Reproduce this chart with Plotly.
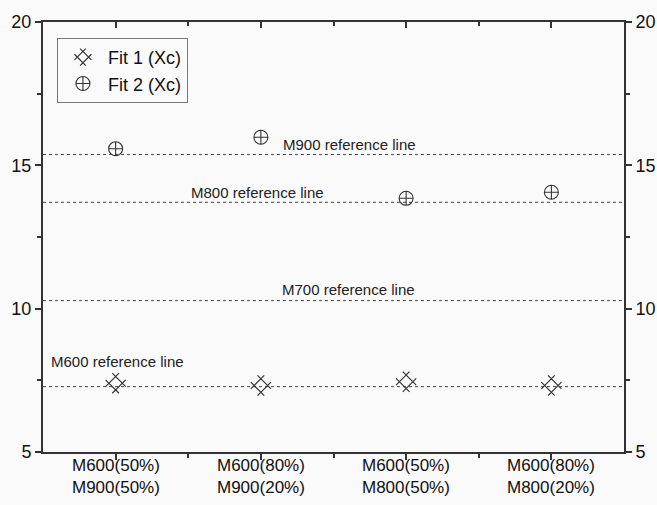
import plotly.graph_objects as go

# Sample blends on the x axis
categories = ["M600(50%)<br>M900(50%)", "M600(80%)<br>M900(20%)",
              "M600(50%)<br>M800(50%)", "M600(80%)<br>M800(20%)"]
cat_pos = [0, 1, 2, 3]

# Fitted peak positions (Xc)
fit1_xc = [7.40, 7.32, 7.45, 7.32]
fit2_xc = [15.58, 15.98, 13.85, 14.06]

# Reference levels of the pure materials
ref_names = ["M900 reference line", "M800 reference line",
             "M700 reference line", "M600 reference line"]
ref_values = [15.38, 13.71, 10.28, 7.28]
ref_label_x = [1.61, 0.98, 1.60, 0.01]
ref_label_y = [15.73, 14.06, 10.67, 8.15]

FONT = "Liberation Sans, Arial, sans-serif"
AX = "#333333"
BG = "#fafafa"

fig = go.Figure()

fig.add_trace(go.Scatter(
    x=cat_pos, y=fit1_xc, mode="markers", name="Fit 1 (Xc)",
    marker=dict(symbol="hash-open", angle=45, size=19, color="#333333",
                line=dict(width=1.2, color="#333333")),
))
fig.add_trace(go.Scatter(
    x=cat_pos, y=fit2_xc, mode="markers", name="Fit 2 (Xc)",
    marker=dict(symbol="circle-cross-open", size=14, color="#333333",
                line=dict(width=1.1, color="#333333")),
))

# invisible traces to bring up the mirrored top and right axes
fig.add_trace(go.Scatter(x=[cat_pos[0]], y=[ref_values[0]], xaxis="x2", yaxis="y",
                         mode="markers", marker=dict(opacity=0), showlegend=False,
                         hoverinfo="skip"))
fig.add_trace(go.Scatter(x=[cat_pos[0]], y=[ref_values[0]], xaxis="x", yaxis="y2",
                         mode="markers", marker=dict(opacity=0), showlegend=False,
                         hoverinfo="skip"))

for name, val, lx, ly in zip(ref_names, ref_values, ref_label_x, ref_label_y):
    fig.add_hline(y=val, line=dict(color="#444444", width=1, dash="3px,3px"), layer="below")
    fig.add_annotation(x=lx, y=ly, text=name, showarrow=False,
                       font=dict(family=FONT, size=15, color="#222222"))

# two-line category labels under the bottom axis
for pos, label in zip(cat_pos, categories):
    fig.add_annotation(x=pos, y=0, xref="x", yref="paper", text=label,
                       showarrow=False, yanchor="top", yshift=-2,
                       font=dict(family=FONT, size=17, color="#111111"))

xr = [-0.5, 3.5]
yr = [5, 20]

fig.update_layout(
    width=657, height=505,
    margin=dict(l=43, r=33, t=22, b=53, autoexpand=False),
    paper_bgcolor=BG, plot_bgcolor=BG,
    font=dict(family=FONT, color="#111111"),
    showlegend=True,
    legend=dict(x=0.024, y=0.963, xanchor="left", yanchor="top",
                bgcolor=BG, bordercolor="#777777", borderwidth=1,
                font=dict(family=FONT, size=18, color="#111111"),
                itemsizing="trace", itemwidth=40, tracegroupgap=0),
    xaxis=dict(range=xr, tickmode="array", tickvals=cat_pos, showticklabels=False,
               automargin=False,
               showgrid=False, zeroline=False, showline=True, linecolor=AX, linewidth=2,
               ticks="outside", ticklen=6, tickwidth=2, tickcolor=AX,
               minor=dict(tickmode="array", tickvals=[0.5, 1.5, 2.5], ticks="outside",
                          ticklen=4, tickwidth=2, tickcolor=AX)),
    xaxis2=dict(range=xr, overlaying="x", side="top", tickmode="array",
                tickvals=cat_pos, showticklabels=False, automargin=False,
                showgrid=False, zeroline=False, showline=True, linecolor=AX, linewidth=2,
                ticks="inside", ticklen=6, tickwidth=2, tickcolor=AX,
                minor=dict(tickmode="array", tickvals=[0.5, 1.5, 2.5], ticks="inside",
                           ticklen=4, tickwidth=2, tickcolor=AX)),
    yaxis=dict(range=yr, tickmode="linear", tick0=5, dtick=5, automargin=False,
               showgrid=False, zeroline=False, showline=True, linecolor=AX, linewidth=2,
               ticks="outside", ticklen=6, tickwidth=2, tickcolor=AX,
               tickfont=dict(family=FONT, size=18, color="#111111"),
               minor=dict(tickmode="linear", tick0=5, dtick=2.5, ticks="outside",
                          ticklen=4, tickwidth=2, tickcolor=AX)),
    yaxis2=dict(range=yr, overlaying="y", side="right", tickmode="linear", tick0=5, dtick=5,
                automargin=False,
                showgrid=False, zeroline=False, showline=True, linecolor=AX, linewidth=2,
                ticks="outside", ticklen=6, tickwidth=2, tickcolor=AX,
                tickfont=dict(family=FONT, size=18, color="#111111"),
                minor=dict(tickmode="linear", tick0=5, dtick=2.5, ticks="outside",
                           ticklen=4, tickwidth=2, tickcolor=AX)),
)

fig.write_html("out.html")
